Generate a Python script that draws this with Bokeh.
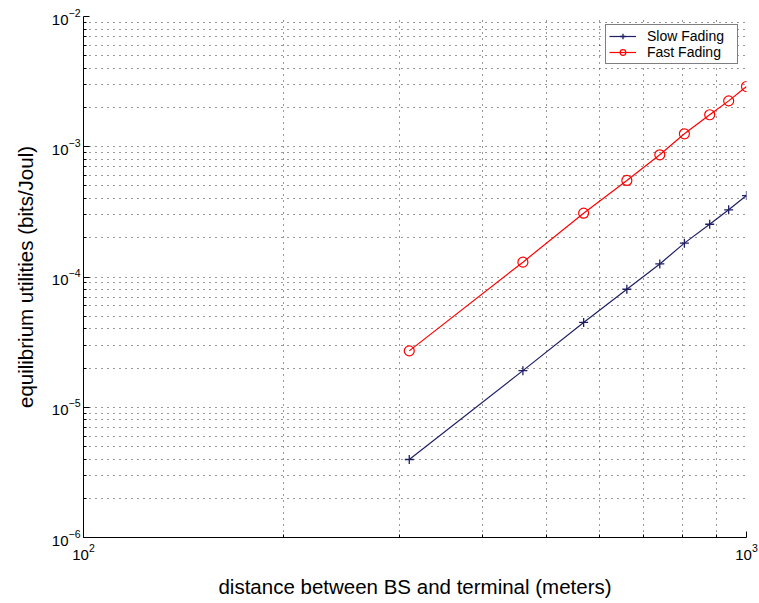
from bokeh.plotting import figure
from bokeh.models import FixedTicker, Range1d, Legend
from bokeh.embed import file_html
from bokeh.resources import INLINE

# Data
distance = [310, 460, 568, 660, 740, 806, 880, 940, 1000]
slow_fading = [3.97e-6, 1.91e-5, 4.48e-5, 8.05e-5, 1.26e-4, 1.82e-4, 2.54e-4, 3.28e-4, 4.22e-4]
fast_fading = [2.71e-5, 1.30e-4, 3.09e-4, 5.51e-4, 8.67e-4, 1.257e-3, 1.76e-3, 2.25e-3, 2.90e-3]

x_major = [100, 1000]
x_minor = [200, 300, 400, 500, 600, 700, 800, 900]
y_major = [1e-6, 1e-5, 1e-4, 1e-3, 1e-2]
y_minor = [m * 10.0 ** e for e in range(-6, -2) for m in range(2, 10)]

FONT = "Liberation Sans"

p = figure(width=759, height=603, x_axis_type="log", y_axis_type="log",
           x_range=Range1d(100, 1000), y_range=Range1d(1e-6, 1e-2),
           output_backend="svg", toolbar_location=None,
           min_border_left=83, min_border_right=13, min_border_top=16, min_border_bottom=66)
p.outline_line_color = None
p.background_fill_color = "white"
p.border_fill_color = "white"

p.xaxis.ticker = FixedTicker(ticks=x_major, minor_ticks=x_minor)
p.yaxis.ticker = FixedTicker(ticks=y_major, minor_ticks=y_minor)

for ax in (p.xaxis[0], p.yaxis[0]):
    ax.major_tick_in = 6
    ax.major_tick_out = 0
    ax.minor_tick_in = 3
    ax.minor_tick_out = 0
    ax.axis_line_color = "black"
    ax.major_tick_line_color = "black"
    ax.minor_tick_line_color = "black"
    ax.major_label_text_font = FONT
    ax.major_label_text_font_size = "15px"
    ax.major_label_text_color = "black"
    ax.axis_label_text_font = FONT
    ax.axis_label_text_font_size = "20.5px"
    ax.axis_label_text_font_style = "normal"
    ax.axis_label_text_color = "black"

p.xaxis.axis_label = "distance between BS and terminal (meters)"
p.yaxis.axis_label = "equilibrium utilities (bits/Joul)"
p.xaxis.major_label_standoff = 6
p.yaxis.major_label_standoff = 3
p.xaxis.axis_label_standoff = 12
p.yaxis.axis_label_standoff = 12

for g in (p.xgrid[0], p.ygrid[0]):
    g.grid_line_color = "#333333"
    g.grid_line_dash = "1 5"
    g.grid_line_width = 1
    g.minor_grid_line_color = "#333333"
    g.minor_grid_line_dash = "1 5"
    g.minor_grid_line_width = 1

blue = "#1f1f66"
red = "#ff0000"

r1 = p.line(distance, slow_fading, line_color=blue, line_width=1.2)
r2 = p.scatter(distance, slow_fading, marker="cross", size=9, line_color=blue, line_width=1.3)
r3 = p.line(distance, fast_fading, line_color=red, line_width=1.2)
r4 = p.scatter(distance, fast_fading, marker="circle", size=10, line_color=red, fill_color=None, line_width=1.2)

legend = Legend(items=[("Slow Fading", [r1, r2]), ("Fast Fading", [r3, r4])],
                location="top_right")
legend.margin = 8
legend.padding = 3
legend.spacing = 0
legend.label_standoff = 11
legend.glyph_width = 27
legend.glyph_height = 14
legend.label_height = 14
legend.label_width = 87
legend.label_text_font = FONT
legend.label_text_font_size = "14px"
legend.label_text_color = "black"
legend.border_line_color = "black"
legend.border_line_width = 1
legend.background_fill_color = "white"
legend.background_fill_alpha = 1
p.add_layout(legend)

open("out.html", "w").write(file_html(p, INLINE))
